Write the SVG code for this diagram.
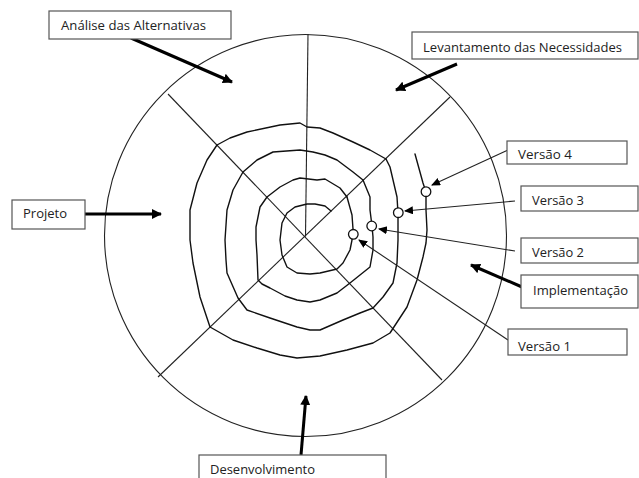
<svg xmlns="http://www.w3.org/2000/svg" width="639" height="478" viewBox="0 0 639 478">
  <style>
    .frame { fill: none; stroke: #222; stroke-width: 1.1; }
    .spiral { fill: none; stroke: #111; stroke-width: 1.4; stroke-linejoin: round; stroke-linecap: round; }
    .box { fill: #fff; stroke: #555; stroke-width: 1.2; }
    .label { font-family: "Open Sans", "Liberation Sans", sans-serif; font-size: 13px; fill: #222; }
    .bold-arrow { fill: none; stroke: #000; stroke-width: 3; }
    .thin-arrow { fill: none; stroke: #222; stroke-width: 1.1; }
    .version { fill: #fff; stroke: #111; stroke-width: 1.3; }
  </style>
  <defs>
    <marker id="headBold" markerUnits="userSpaceOnUse" markerWidth="12" markerHeight="12" refX="9" refY="5" orient="auto">
      <path d="M0,0 L10,5 L0,10 Z" fill="#000"/>
    </marker>
    <marker id="headThin" markerUnits="userSpaceOnUse" markerWidth="12" markerHeight="12" refX="8" refY="4" orient="auto">
      <path d="M0,0 L9,4 L0,8 Z" fill="#000"/>
    </marker>
  </defs>
  <rect width="639" height="478" fill="#fff"/>

  <!-- outer circle and sector dividers -->
  <g id="frame">
    <circle class="frame" cx="305.5" cy="235.5" r="201"/>
    <line class="frame" x1="308" y1="34" x2="305.5" y2="236.5"/>
    <line class="frame" x1="168" y1="94" x2="442" y2="380"/>
    <line class="frame" x1="450" y1="97" x2="158" y2="377"/>
  </g>

  <!-- hand-drawn spiral, four turns -->
  <g id="spiral">
    <polyline class="spiral" points="331,211 325,206 315,204 307,204 295,207 287,213 282,223 280,240 282,255 287,267 297,273 310,274 320,273 337,269 343,263 350,250 352,240 353,234 353,229 352,215 347,197"/>
    <polyline class="spiral" points="347,197 340,188 325,179 317,180 300,178 293,180 280,187 267,197 260,207 256,227 256,240 257,255 258,280 262,284 270,288 285,296 297,300 310,302 320,300 337,293 350,283 360,275 370,267 373,250 373,237 372,226 370,210 370,197 363,180"/>
    <polyline class="spiral" points="363,180 353,172 337,160 325,155 313,152 300,150 273,152 257,160 243,172 233,190 227,210 225,240 226,260 227,273 238,298 247,310 270,318 297,327 310,330 320,330 343,320 360,313 373,308 383,297 393,283 397,263 398,240 398,213 397,197 390,167 386,159"/>
    <polyline class="spiral" points="386,159 370,150 353,142 333,133 320,128 307,127 300,123 280,125 247,132 230,138 217,145 207,160 197,183 190,210 190,240 193,263 200,297 210,327 233,340 257,348 280,355 297,358 320,356 347,350 373,343 390,333 407,307 417,280 423,257 426,243 427,230 426,210 426,192 423,183 415,154"/>
  </g>

  <!-- connectors -->
  <g id="connectors">
    <line class="bold-arrow" x1="131" y1="38" x2="232" y2="82" marker-end="url(#headBold)"/>
    <line class="bold-arrow" x1="457" y1="64" x2="396" y2="90" marker-end="url(#headBold)"/>
    <line class="bold-arrow" x1="85" y1="214" x2="161" y2="214" marker-end="url(#headBold)"/>
    <line class="bold-arrow" x1="522" y1="287" x2="471" y2="265" marker-end="url(#headBold)"/>
    <line class="bold-arrow" x1="301" y1="455" x2="306" y2="396" marker-end="url(#headBold)"/>
    <line class="thin-arrow" x1="508" y1="150" x2="432" y2="185" marker-end="url(#headThin)"/>
    <line class="thin-arrow" x1="515" y1="201" x2="405" y2="211" marker-end="url(#headThin)"/>
    <line class="thin-arrow" x1="515" y1="251" x2="379" y2="229" marker-end="url(#headThin)"/>
    <line class="thin-arrow" x1="508" y1="340" x2="359" y2="240" marker-end="url(#headThin)"/>
  </g>

  <!-- version markers on the spiral -->
  <g id="marker-v1"><circle class="version" cx="353.3" cy="234.3" r="4.8"/></g>
  <g id="marker-v2"><circle class="version" cx="371.7" cy="226" r="4.8"/></g>
  <g id="marker-v3"><circle class="version" cx="398.3" cy="212.7" r="4.8"/></g>
  <g id="marker-v4"><circle class="version" cx="426" cy="191.7" r="4.8"/></g>

  <!-- labels -->
  <g id="analise">
    <rect class="box" x="49" y="11" width="182" height="28"/>
    <text class="label" x="61" y="30" textLength="145" lengthAdjust="spacingAndGlyphs">Análise das Alternativas</text>
  </g>
  <g id="levantamento">
    <rect class="box" x="412" y="32" width="226" height="27"/>
    <text class="label" x="423" y="52" textLength="199" lengthAdjust="spacingAndGlyphs">Levantamento das Necessidades</text>
  </g>
  <g id="versao4">
    <rect class="box" x="507" y="141" width="120" height="23"/>
    <text class="label" x="518" y="159" textLength="54" lengthAdjust="spacingAndGlyphs">Versão 4</text>
  </g>
  <g id="versao3">
    <rect class="box" x="521" y="186" width="117" height="25"/>
    <text class="label" x="532" y="205" textLength="52" lengthAdjust="spacingAndGlyphs">Versão 3</text>
  </g>
  <g id="versao2">
    <rect class="box" x="521" y="238" width="117" height="25"/>
    <text class="label" x="532" y="257" textLength="52" lengthAdjust="spacingAndGlyphs">Versão 2</text>
  </g>
  <g id="implementacao">
    <rect class="box" x="521" y="275" width="117" height="33"/>
    <text class="label" x="533" y="295" textLength="95" lengthAdjust="spacingAndGlyphs">Implementação</text>
  </g>
  <g id="versao1">
    <rect class="box" x="508" y="329" width="119" height="26"/>
    <text class="label" x="518" y="351" textLength="53" lengthAdjust="spacingAndGlyphs">Versão 1</text>
  </g>
  <g id="projeto">
    <rect class="box" x="12" y="200" width="73" height="29"/>
    <text class="label" x="23" y="218" textLength="44" lengthAdjust="spacingAndGlyphs">Projeto</text>
  </g>
  <g id="desenvolvimento">
    <rect class="box" x="199" y="455" width="187" height="30"/>
    <text class="label" x="210" y="474" textLength="105" lengthAdjust="spacingAndGlyphs">Desenvolvimento</text>
  </g>
</svg>
